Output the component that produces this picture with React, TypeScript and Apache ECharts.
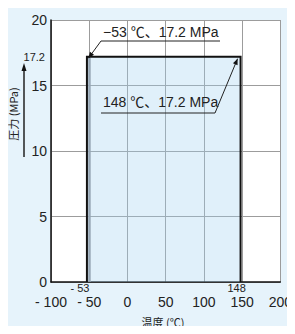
import React, { useEffect, useRef } from "react";
import * as echarts from "echarts";

const xTicks = [-100, -50, 0, 50, 100, 150, 200];
const yTicks = [0, 5, 10, 15, 20];
const tempMin = -53;
const tempMax = 148;
const pressureMax = 17.2;
const rangeData = [[tempMin, tempMax, pressureMax]];
const labelLow = "−53 ℃、17.2 MPa";
const labelHigh = "148 ℃、17.2 MPa";
const xName = "温度 (℃)";
const yName = "圧力 (MPa)";

const LATIN = "'Liberation Sans', Arial, 'Noto Sans CJK JP', sans-serif";
const CJK = "'Noto Sans CJK JP', 'Liberation Sans', sans-serif";

function arrowHead(tip: number[], from: number[], len = 6, half = 2.5) {
  const dx = tip[0] - from[0];
  const dy = tip[1] - from[1];
  const d = Math.hypot(dx, dy) || 1;
  const ux = dx / d, uy = dy / d;
  const bx = tip[0] - ux * len, by = tip[1] - uy * len;
  return {
    type: "polygon",
    silent: true,
    z: 100,
    shape: { points: [tip, [bx - uy * half, by + ux * half], [bx + uy * half, by - ux * half]] },
    style: { fill: "#111" },
  };
}

function line(a: number[], b: number[], w = 1) {
  return {
    type: "line",
    silent: true,
    z: 100,
    shape: { x1: a[0], y1: a[1], x2: b[0], y2: b[1] },
    style: { stroke: "#222", lineWidth: w },
  };
}

function text(t: string, x: number, y: number, size: number, align = "left", family = LATIN, extra: any = {}) {
  return {
    type: "text",
    silent: true,
    z: 100,
    x,
    y,
    ...extra,
    style: { text: t, fontSize: size, fontFamily: family, fill: "#222", align, verticalAlign: "middle" },
  };
}

export default function App() {
  const ref = useRef<HTMLDivElement>(null);
  useEffect(() => {
    if (!ref.current) return;
    const chart = echarts.init(ref.current, null, { renderer: "svg" });
    const fmt = (v: number) => (v < 0 ? "- " + Math.abs(v) : String(v));
    chart.setOption({
      animation: false,
      backgroundColor: "#e6f3fb",
      grid: { left: 51, right: 13, top: 20, bottom: 52, show: true, backgroundColor: "#ffffff", borderWidth: 0 },
      xAxis: {
        type: "value",
        min: xTicks[0],
        max: xTicks[xTicks.length - 1],
        interval: 50,
        axisLine: { show: true, onZero: false, lineStyle: { color: "#111", width: 1.5 } },
        axisTick: { show: false },
        splitLine: { show: true, lineStyle: { color: "#9c9c9c", width: 1 } },
        axisLabel: { margin: 13, fontSize: 14, color: "#222", fontFamily: LATIN, formatter: fmt },
      },
      yAxis: {
        type: "value",
        min: yTicks[0],
        max: yTicks[yTicks.length - 1],
        interval: 5,
        axisLine: { show: true, onZero: false, lineStyle: { color: "#111", width: 1.5 } },
        axisTick: { show: false },
        splitLine: { show: true, lineStyle: { color: "#9c9c9c", width: 1 } },
        axisLabel: { margin: 4, fontSize: 14, color: "#222", fontFamily: LATIN },
      },
      series: [
        {
          type: "custom",
          clip: false,
          encode: { x: [0, 1], y: 2 },
          data: rangeData,
          renderItem: (params: any, api: any) => {
            const p0 = api.coord([api.value(0), 0]);
            const p1 = api.coord([api.value(1), api.value(2)]);
            return {
              type: "group",
              children: [
                {
                  type: "rect",
                  shape: { x: p0[0], y: p1[1], width: p1[0] - p0[0], height: p0[1] - p1[1] },
                  style: { fill: "rgba(160,210,240,0.33)" },
                },
                {
                  type: "rect",
                  shape: { x: p0[0] + 1, y: p1[1] + 1, width: 3, height: p0[1] - p1[1] - 1 },
                  style: { fill: "rgba(150,165,180,0.75)" },
                },
                {
                  type: "polyline",
                  shape: { points: [[p0[0], p0[1]], [p0[0], p1[1]], [p1[0], p1[1]], [p1[0], p0[1]]] },
                  style: { stroke: "#111", lineWidth: 2, fill: null },
                },
              ],
            };
          },
        },
      ],
    });

    const cLow = chart.convertToPixel({ gridIndex: 0 }, [tempMin, pressureMax]) as number[];
    const cHigh = chart.convertToPixel({ gridIndex: 0 }, [tempMax, pressureMax]) as number[];
    const bottom = chart.convertToPixel({ gridIndex: 0 }, [tempMin, 0]) as number[];
    const bottomHigh = chart.convertToPixel({ gridIndex: 0 }, [tempMax, 0]) as number[];

    const lowStart = [101, 41];
    const lowTip = [cLow[0] + 1.5, cLow[1] + 1.5];
    const highEnd = [215, 113];
    const highTip = [cHigh[0] - 3, cHigh[1] + 2];

    chart.setOption({
      graphic: [
        text(labelLow, 103, 32, 14, "left"),
        line([lowStart[0], lowStart[1]], [220, 41]),
        line(lowStart, lowTip),
        arrowHead(lowTip, lowStart),
        text(labelHigh, 103, 102, 14, "left"),
        line([101, 113], highEnd),
        line(highEnd, highTip),
        arrowHead(highTip, highEnd),
        text(String(pressureMax), 45, cLow[1], 11, "right"),
        text("- " + Math.abs(tempMin), bottom[0] - 7, bottom[1] + 6, 11, "center"),
        text(String(tempMax), bottomHigh[0] - 4, bottomHigh[1] + 6, 11, "center"),
        text(yName, 13, 114, 11, "center", CJK, { rotation: Math.PI / 2 }),
        line([24, 157], [24, 70], 1.5),
        arrowHead([24, 63], [24, 157], 8, 2.5),
        text(xName, 163, 322, 11, "center", CJK),
        line([123, 333], [205, 333], 1.5),
        arrowHead([212, 333], [123, 333], 8, 2.5),
      ],
    });
    return () => chart.dispose();
  }, []);
  return <div ref={ref} style={{ width: 295, height: 334, margin: -8 }} />;
}
